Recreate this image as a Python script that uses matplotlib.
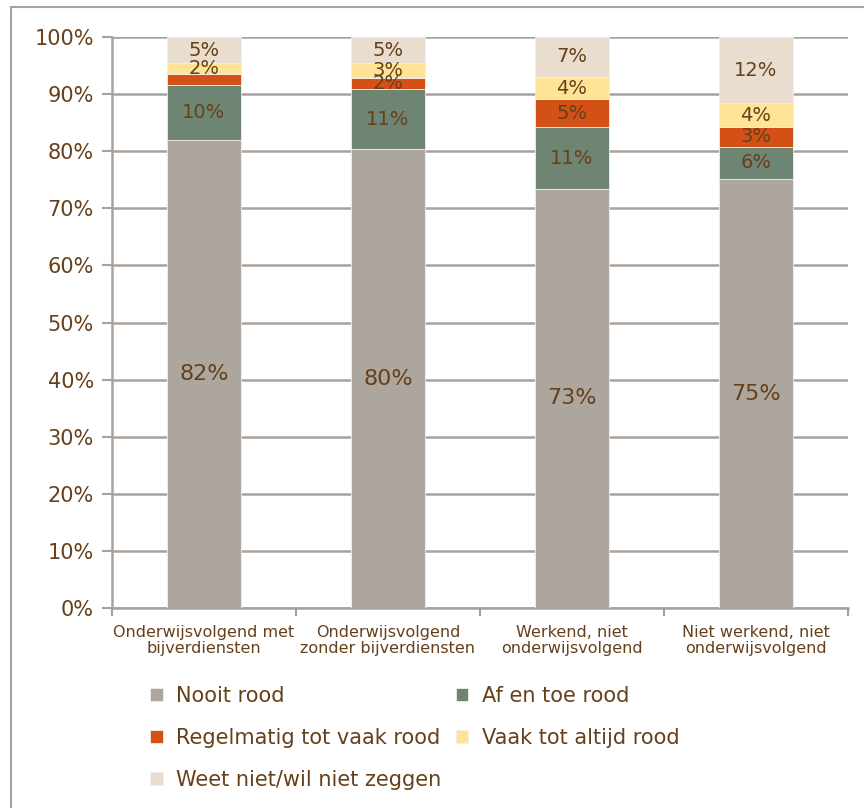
import matplotlib.pyplot as plt
import numpy as np
from matplotlib.lines import Line2D

categories = ["Onderwijsvolgend met\nbijverdiensten",
              "Onderwijsvolgend\nzonder bijverdiensten",
              "Werkend, niet\nonderwijsvolgend",
              "Niet werkend, niet\nonderwijsvolgend"]
series = ["Nooit rood", "Af en toe rood", "Regelmatig tot vaak rood",
          "Vaak tot altijd rood", "Weet niet/wil niet zeggen"]
nooit = [82.0, 80.3, 73.4, 75.1]
af_en_toe = [9.6, 10.6, 10.8, 5.7]
regelmatig = [1.9, 1.9, 4.9, 3.4]
vaak = [1.9, 2.6, 3.9, 4.2]
weet_niet = [4.6, 4.6, 7.0, 11.6]
colors = ["#ADA69F", "#6E8574", "#D35017", "#FFE497", "#E8DDCF"]
# labels not shown in the source chart: (series, category)
hidden = [(2, 0)]

txt = "#65401A"
grid_c = "#ABA19B"

fig = plt.figure(figsize=(8.64, 8.08), dpi=100)
ax = fig.add_axes([0.1296, 0.2475, 0.8519, 0.7067])

x = np.arange(len(categories))
bottom = np.zeros(len(categories))
bars = []
for i, vals in enumerate([nooit, af_en_toe, regelmatig, vaak, weet_niet]):
    vals = np.array(vals)
    b = ax.bar(x, vals, 0.4, bottom=bottom, color=colors[i],
               edgecolor="#F2EEEA", linewidth=0.6, zorder=3, label=series[i])
    bars.append(b)
    for xi, v, bt in zip(x, vals, bottom):
        if (i, xi) in hidden:
            continue
        ax.text(xi, bt + v / 2, "%d%%" % round(v), ha="center", va="center",
                color=txt, fontsize=16 if i == 0 else 14, zorder=4)
    bottom += vals

ax.set_xlim(-0.5, 3.5)
ax.set_ylim(0, 100)
ax.set_yticks(np.arange(0, 101, 10))
ax.set_yticklabels(["%d%%" % v for v in range(0, 101, 10)], fontsize=15, color=txt)
ax.yaxis.grid(True, color=grid_c, linewidth=1.8, zorder=0)
ax.tick_params(axis="y", length=7, width=1.5, color=grid_c, pad=6)

ax.set_xticks(x)
ax.set_xticklabels(categories, fontsize=11.5, color=txt, linespacing=1.1)
ax.set_xticks(np.arange(-0.5, 4, 1), minor=True)
ax.tick_params(axis="x", which="major", length=0, pad=12)
ax.tick_params(axis="x", which="minor", length=6, width=1.5, color=grid_c)

for s in ["top", "right"]:
    ax.spines[s].set_visible(False)
for s in ["left", "bottom"]:
    ax.spines[s].set_color(grid_c)
    ax.spines[s].set_linewidth(1.8)

# legend, row-wise order in 2 columns
order = [0, 2, 4, 1, 3]
leg = fig.legend([bars[i] for i in order], [series[i] for i in order],
                 loc="upper left", bbox_to_anchor=(0.152, 0.174), ncol=2,
                 frameon=False, fontsize=15, handlelength=0.6, handleheight=0.6,
                 handletextpad=0.65, columnspacing=0.7, labelspacing=1.05)
for t in leg.get_texts():
    t.set_color(txt)

# chart frame
fig.add_artist(Line2D([11 / 864, 11 / 864], [0, 1 - 7 / 808], color=grid_c, lw=1.5))
fig.add_artist(Line2D([11 / 864, 1], [1 - 7 / 808, 1 - 7 / 808], color=grid_c, lw=1.5))

fig.savefig("out.png", dpi=100)
